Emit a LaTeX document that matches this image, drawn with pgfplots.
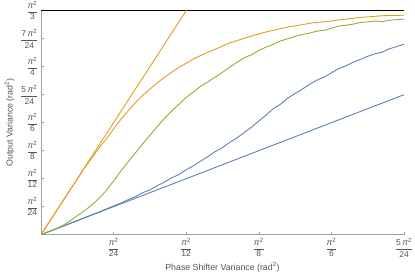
\documentclass[border=0pt]{standalone}
\usepackage{amsmath}
\usepackage{fontspec}
\setmainfont{Liberation Sans}
\usepackage{pgfplots}
\pgfplotsset{compat=1.18}
\definecolor{mblue}{HTML}{5E81B5}
\definecolor{morange}{HTML}{E19C24}
\definecolor{mgreen}{HTML}{8FB032}
\definecolor{axgray}{HTML}{A0A0A0}
\definecolor{txgray}{HTML}{555555}
\newcommand\pf[2]{$\dfrac{\text{#1\textit{π}}^{\text{2}}}{\text{#2}}$}
\begin{document}
\begin{tikzpicture}
\begin{axis}[
  scale only axis, width=363pt, height=224pt,
  xmin=0, xmax=5, ymin=0, ymax=8,
  axis lines*=left,
  axis line style={axgray, line width=0.6pt},
  tick style={axgray, line width=0.5pt},
  major tick length=3pt,
  tick align=inside,
  xtick={1,2,3,4,5},
  xticklabels={\pf{}{24},\pf{}{12},\pf{}{8},\pf{}{6},\pf{5\,}{24}},
  ytick={1,2,3,4,5,6,7,8},
  yticklabels={\pf{}{24},\pf{}{12},\pf{}{8},\pf{}{6},\pf{5\,}{24},\pf{}{4},\pf{7\,}{24},\pf{}{3}},
  ticklabel style={font=\fontsize{8.5}{9}\selectfont, text=txgray},
  xticklabel style={yshift=0pt},
  yticklabel style={xshift=1pt},
  label style={font=\fontsize{8.8}{10}\selectfont, text=txgray},
  xlabel={Phase Shifter Variance (rad\textsuperscript{2})},
  ylabel={Output Variance (rad\textsuperscript{2})},
  xlabel style={yshift=2pt},
  ylabel style={yshift=-1pt},
  clip=true,
  every axis plot/.append style={line width=0.9pt},
]
\addplot[black, line width=1.3pt] coordinates {(0,8) (5,8)};
\addplot[mblue] coordinates {(0,0) (5,5)};
\addplot[morange] coordinates {(0,0) (2.2,8.8)};
\addplot[mblue] coordinates {
(0,0) (0.3,0.3) (0.6,0.61) (0.8,0.81) (1.0,1.03) (1.1,1.13) (1.2,1.25) (1.3,1.36) (1.4,1.5) (1.5,1.6) (1.6,1.75) (1.7,1.88) (1.8,2.03) (1.9,2.15) (2.0,2.32) (2.1,2.46) (2.2,2.63) (2.3,2.79) (2.4,2.97) (2.5,3.11) (2.6,3.3) (2.7,3.46) (2.8,3.65) (2.9,3.84) (3.0,4.06) (3.1,4.27) (3.2,4.5) (3.3,4.66) (3.4,4.88) (3.5,5.04) (3.6,5.2) (3.7,5.37) (3.8,5.52) (3.9,5.63) (4.0,5.78) (4.1,5.93) (4.2,6.03) (4.3,6.16) (4.4,6.26) (4.5,6.37) (4.6,6.46) (4.7,6.52) (4.8,6.64) (4.9,6.72) (5.0,6.8)};
\addplot[mgreen] coordinates {
(0,0) (0.2,0.21) (0.3,0.33) (0.4,0.49) (0.5,0.68) (0.6,0.86) (0.7,1.06) (0.8,1.3) (0.9,1.58) (1.0,1.92) (1.1,2.27) (1.2,2.6) (1.3,2.92) (1.4,3.24) (1.5,3.55) (1.6,3.86) (1.7,4.15) (1.8,4.42) (1.9,4.66) (2.0,4.9) (2.1,5.1) (2.2,5.3) (2.3,5.46) (2.4,5.63) (2.5,5.8) (2.6,5.98) (2.7,6.16) (2.8,6.32) (2.9,6.43) (3.0,6.58) (3.1,6.7) (3.2,6.8) (3.3,6.92) (3.4,7.0) (3.5,7.08) (3.6,7.15) (3.7,7.2) (3.8,7.27) (3.9,7.3) (4.0,7.37) (4.1,7.45) (4.2,7.48) (4.3,7.52) (4.4,7.58) (4.5,7.6) (4.6,7.63) (4.7,7.61) (4.8,7.66) (4.9,7.68) (5.0,7.7)};
\addplot[morange] coordinates {
(0,0) (0.2,0.8) (0.4,1.6) (0.6,2.38) (0.7,2.74) (0.8,3.1) (0.9,3.42) (1.0,3.78) (1.1,4.12) (1.2,4.42) (1.3,4.72) (1.4,4.98) (1.5,5.2) (1.6,5.42) (1.7,5.62) (1.8,5.8) (1.9,5.98) (2.0,6.12) (2.1,6.28) (2.2,6.4) (2.3,6.52) (2.4,6.62) (2.5,6.74) (2.6,6.85) (2.7,6.93) (2.8,7.02) (2.9,7.1) (3.0,7.17) (3.1,7.24) (3.2,7.3) (3.3,7.36) (3.4,7.42) (3.5,7.46) (3.6,7.5) (3.7,7.55) (3.8,7.58) (3.9,7.6) (4.0,7.63) (4.1,7.67) (4.2,7.7) (4.3,7.73) (4.4,7.76) (4.5,7.78) (4.6,7.8) (4.7,7.82) (4.8,7.83) (4.9,7.83) (5.0,7.84)};
\end{axis}
\pgfresetboundingbox
\path (current axis.south west) ++(-41pt,-45pt) coordinate (bl);
\path (current axis.north east) ++(11pt,10.7pt) coordinate (tr);
\path (bl) rectangle (tr);
\end{tikzpicture}
\end{document}
